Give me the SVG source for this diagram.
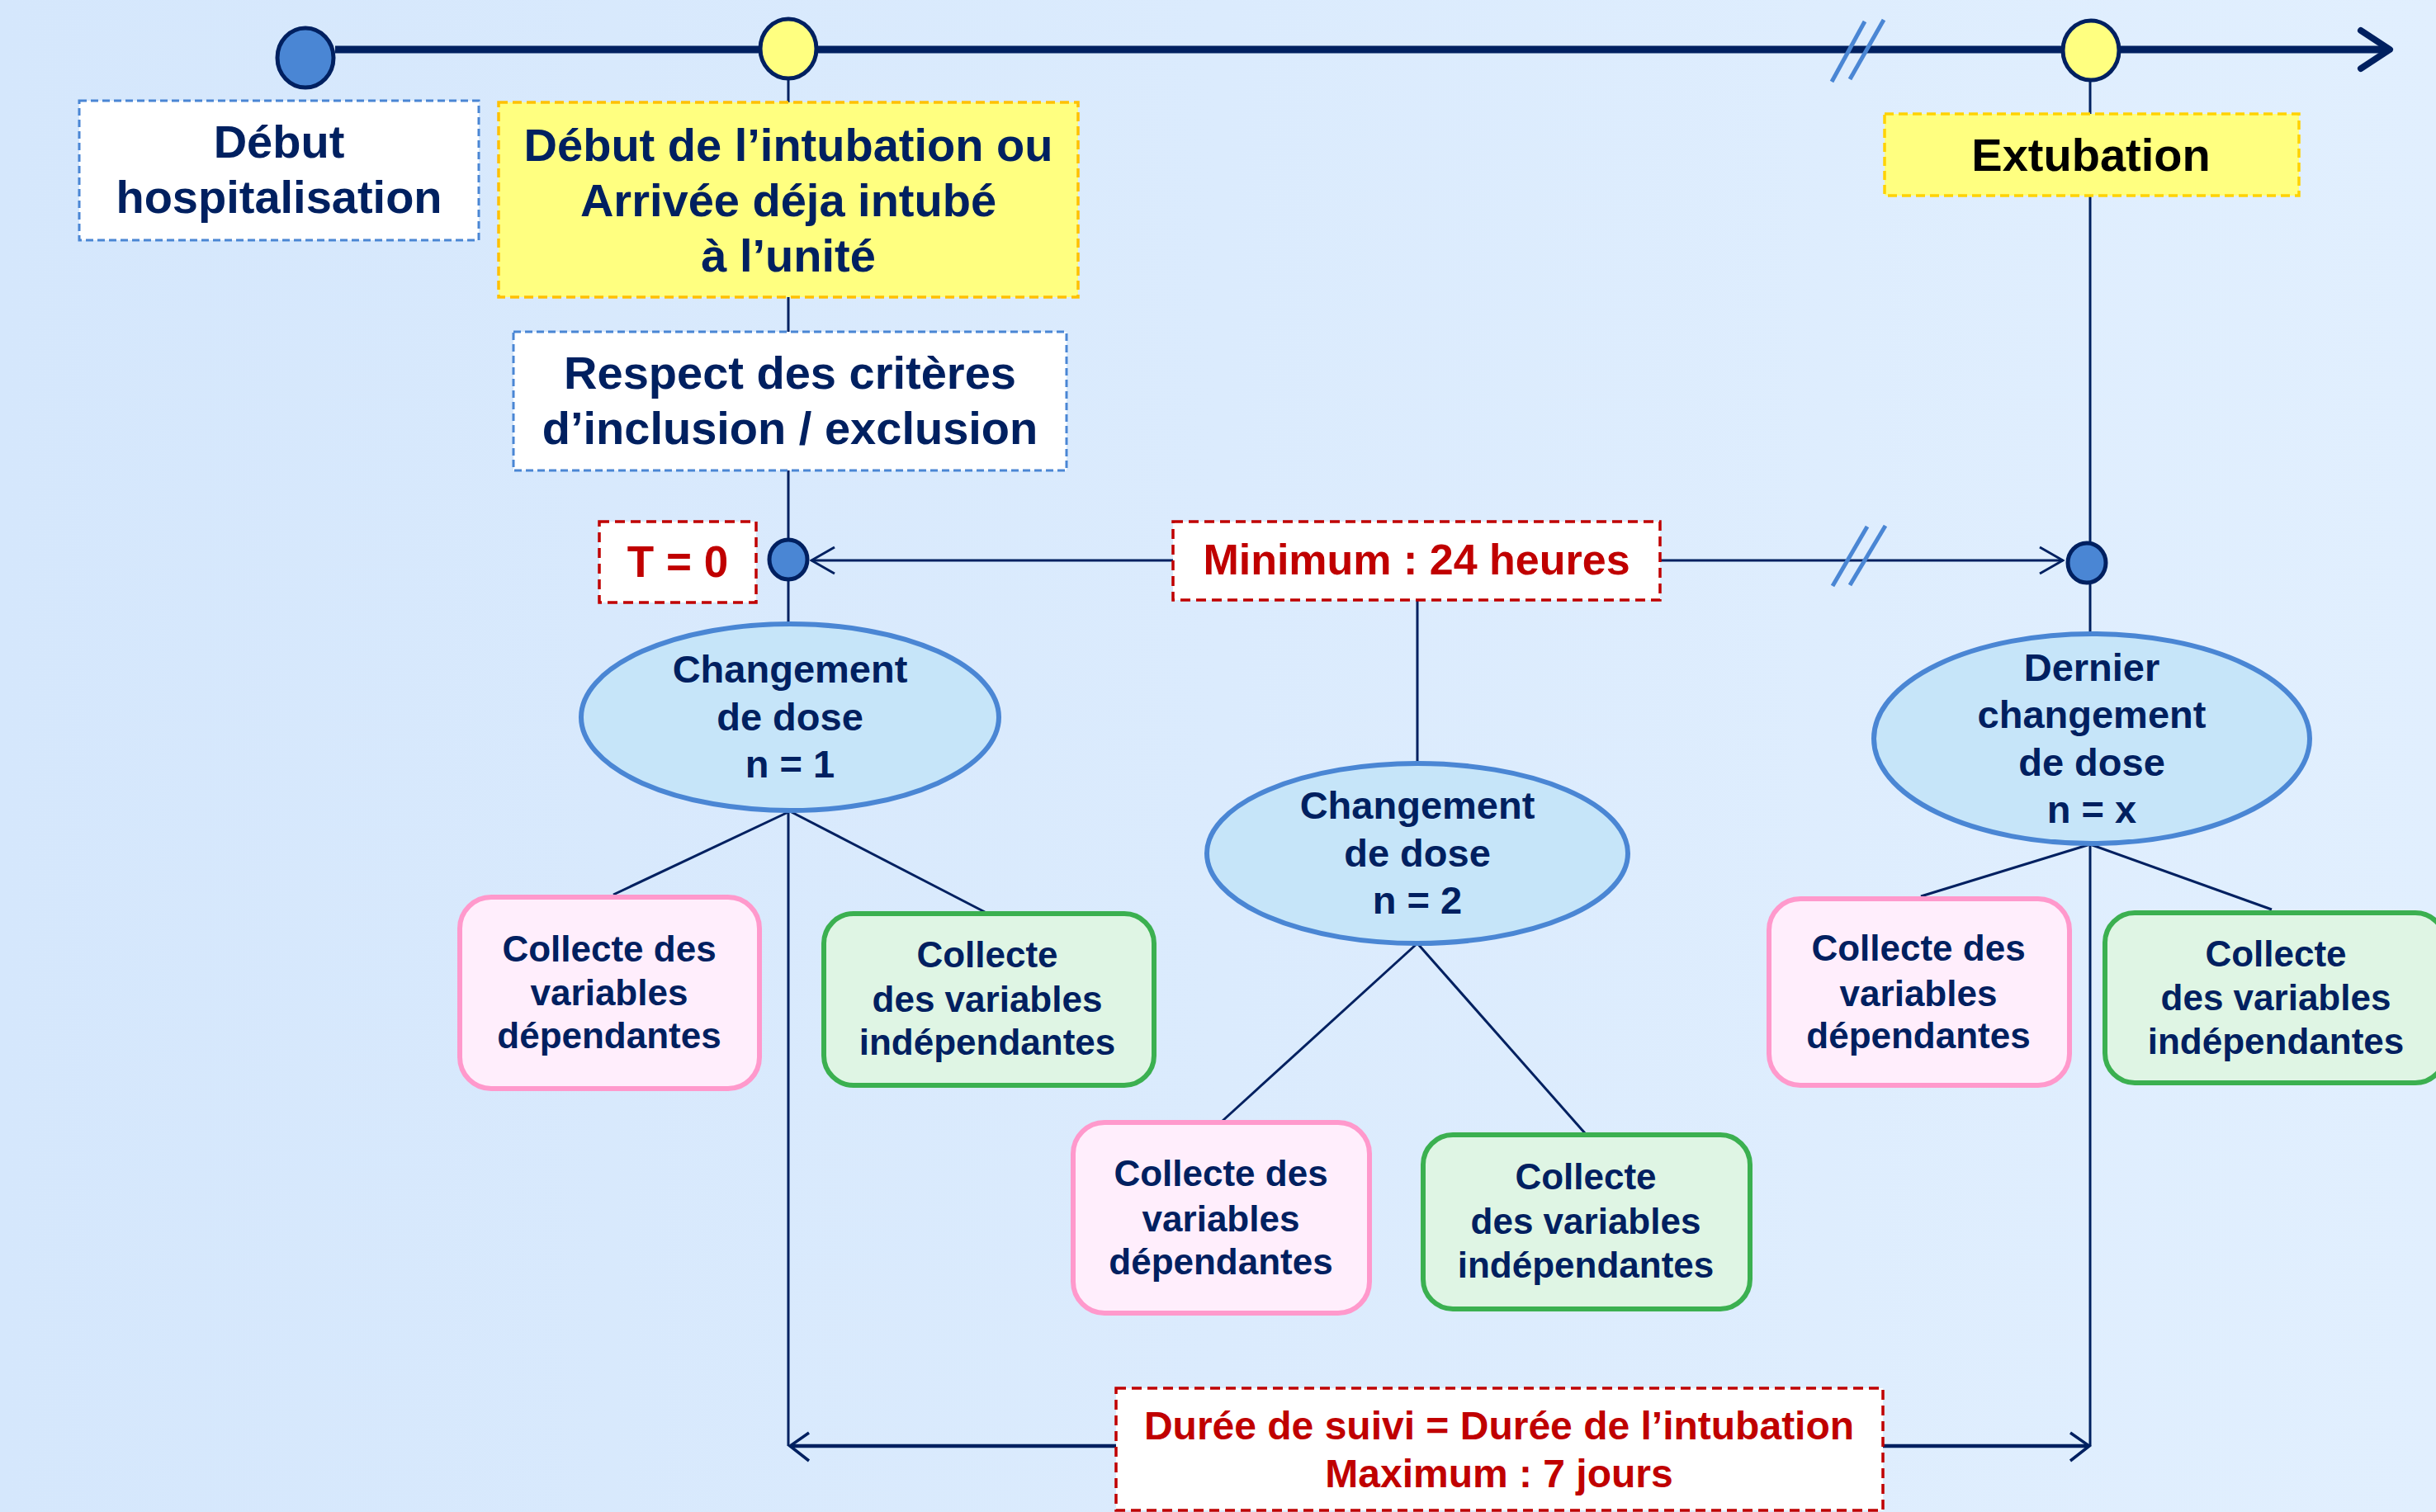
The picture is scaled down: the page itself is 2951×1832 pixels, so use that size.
<svg xmlns="http://www.w3.org/2000/svg" width="2951" height="1832" viewBox="0 0 2951 1832">
<defs>
<linearGradient id="bg" x1="0" y1="0" x2="1" y2="0">
<stop offset="0" stop-color="#d5e7fc"/>
<stop offset="1" stop-color="#e1effe"/>
</linearGradient>
<marker id="chev" viewBox="0 0 32 36" refX="30" refY="18" markerWidth="32" markerHeight="36" markerUnits="userSpaceOnUse" orient="auto-start-reverse">
<path d="M2,2 L30,18 L2,34" fill="none" stroke="#002060" stroke-width="3"/>
</marker>
</defs>
<style>
text{font-family:"Liberation Sans",Arial,sans-serif;font-weight:bold;text-anchor:middle;fill:#002060}
.big{font-size:56px}
.red{fill:#c00000}
.ell{font-size:47px}
.box{font-size:44px}
.ln{stroke:#002060;stroke-width:3;fill:none}
.brk{stroke:#4a86d4;stroke-width:5;fill:none}
.bluedash{fill:#ffffff;stroke:#4a86d4;stroke-width:3;stroke-dasharray:9 5}
.yeldash{fill:#ffff80;stroke:#ffc000;stroke-width:3.5;stroke-dasharray:11 6}
.reddash{fill:#ffffff;stroke:#c00000;stroke-width:3.5;stroke-dasharray:12 7}
.ellipse{fill:#c6e5f9;stroke:#4a86d4;stroke-width:6}
.pink{fill:#ffeefc;stroke:#ff99cc;stroke-width:6}
.green{fill:#dff5e4;stroke:#3bb050;stroke-width:6}
.dotb{fill:#4a86d4;stroke:#002060;stroke-width:5}
.doty{fill:#ffff80;stroke:#002060;stroke-width:5}
</style>
<rect x="0" y="0" width="2951" height="1832" fill="url(#bg)"/>

<g id="connectors">
<line x1="406" y1="60" x2="2894" y2="60" stroke="#002060" stroke-width="9"/>
<path d="M2860,37 L2895,60 L2860,83" fill="none" stroke="#002060" stroke-width="8" stroke-linecap="round" stroke-linejoin="round"/>
<line class="brk" x1="2259" y1="26" x2="2219" y2="99"/>
<line class="brk" x1="2282" y1="24" x2="2241" y2="96"/>
<line class="ln" x1="955" y1="96" x2="955" y2="124"/>
<line class="ln" x1="955" y1="360" x2="955" y2="402"/>
<line class="ln" x1="955" y1="570" x2="955" y2="654"/>
<line class="ln" x1="955" y1="703" x2="955" y2="755"/>
<line class="ln" x1="955" y1="983" x2="955" y2="1752"/>
<line class="ln" x1="2532" y1="98" x2="2532" y2="138"/>
<line class="ln" x1="2532" y1="237" x2="2532" y2="656"/>
<line class="ln" x1="2532" y1="708" x2="2532" y2="766"/>
<line class="ln" x1="2532" y1="1023" x2="2532" y2="1752"/>
<line class="ln" x1="1421" y1="679" x2="983" y2="679" marker-end="url(#chev)"/>
<line class="ln" x1="2011" y1="679" x2="2499" y2="679" marker-end="url(#chev)"/>
<line class="brk" x1="2262" y1="638" x2="2220" y2="710"/>
<line class="brk" x1="2284" y1="637" x2="2241" y2="709"/>
<line class="ln" x1="1717" y1="727" x2="1717" y2="925"/>
<line class="ln" x1="957" y1="983" x2="743" y2="1084"/>
<line class="ln" x1="957" y1="983" x2="1193" y2="1105"/>
<line class="ln" x1="1717" y1="1143" x2="1481" y2="1358"/>
<line class="ln" x1="1717" y1="1143" x2="1920" y2="1373"/>
<line class="ln" x1="2532" y1="1023" x2="2327" y2="1086"/>
<line class="ln" x1="2532" y1="1023" x2="2752" y2="1102"/>
<line x1="958" y1="1752" x2="2530" y2="1752" stroke="#002060" stroke-width="4.5"/>
<path d="M980,1736 L957,1752 L980,1770" fill="none" stroke="#002060" stroke-width="3.5"/>
<path d="M2508,1736 L2531,1752 L2508,1770" fill="none" stroke="#002060" stroke-width="3.5"/>
</g>

<g id="dot-debut"><ellipse class="dotb" cx="370" cy="70" rx="34" ry="36"/></g>
<g id="dot-intubation"><ellipse class="doty" cx="955" cy="59" rx="34" ry="36"/></g>
<g id="dot-extubation"><ellipse class="doty" cx="2533" cy="61" rx="34" ry="36"/></g>
<g id="dot-t0"><ellipse class="dotb" cx="955" cy="678" rx="23" ry="24"/></g>
<g id="dot-right"><ellipse class="dotb" cx="2528" cy="682" rx="23" ry="24"/></g>

<g id="debut-hosp">
<rect class="bluedash" x="96" y="122" width="484" height="169"/>
<text class="big" x="338" y="191">Début</text>
<text class="big" x="338" y="258">hospitalisation</text>
</g>

<g id="debut-intubation">
<rect class="yeldash" x="604" y="124" width="702" height="236"/>
<text class="big" x="955" y="195">Début de l’intubation ou</text>
<text class="big" x="955" y="262">Arrivée déja intubé</text>
<text class="big" x="955" y="329">à l’unité</text>
</g>

<g id="criteres">
<rect class="bluedash" x="622" y="402" width="670" height="168"/>
<text class="big" x="957" y="471">Respect des critères</text>
<text class="big" x="957" y="538">d’inclusion / exclusion</text>
</g>

<g id="extubation">
<rect class="yeldash" x="2283" y="138" width="502" height="99" style="stroke:#ffd200"/>
<text class="big" x="2533" y="207" style="fill:#000000">Extubation</text>
</g>

<g id="t0">
<rect class="reddash" x="726" y="632" width="190" height="98"/>
<text class="red" x="821" y="699" style="font-size:53px">T = 0</text>
</g>

<g id="minimum">
<rect class="reddash" x="1421" y="632" width="590" height="95"/>
<text class="red" x="1716" y="696" style="font-size:52px">Minimum : 24 heures</text>
</g>

<g id="changement-1">
<ellipse class="ellipse" cx="957" cy="869" rx="253" ry="113"/>
<text class="ell" x="957" y="827">Changement</text>
<text class="ell" x="957" y="885">de dose</text>
<text class="ell" x="957" y="942">n = 1</text>
</g>

<g id="changement-2">
<ellipse class="ellipse" cx="1717" cy="1034" rx="255" ry="109"/>
<text class="ell" x="1717" y="992">Changement</text>
<text class="ell" x="1717" y="1050">de dose</text>
<text class="ell" x="1717" y="1107">n = 2</text>
</g>

<g id="changement-x">
<ellipse class="ellipse" cx="2534" cy="895" rx="264" ry="127"/>
<text class="ell" x="2534" y="825">Dernier</text>
<text class="ell" x="2534" y="882">changement</text>
<text class="ell" x="2534" y="940">de dose</text>
<text class="ell" x="2534" y="997">n = x</text>
</g>

<g id="dep-1">
<rect class="pink" x="557" y="1087" width="363" height="232" rx="38"/>
<text class="box" x="738" y="1165">Collecte des</text>
<text class="box" x="738" y="1218">variables</text>
<text class="box" x="738" y="1270">dépendantes</text>
</g>

<g id="indep-1">
<rect class="green" x="998" y="1107" width="400" height="208" rx="36"/>
<text class="box" x="1196" y="1172">Collecte</text>
<text class="box" x="1196" y="1226">des variables</text>
<text class="box" x="1196" y="1278">indépendantes</text>
</g>

<g id="dep-2">
<rect class="pink" x="1300" y="1360" width="359" height="231" rx="38"/>
<text class="box" x="1479" y="1437">Collecte des</text>
<text class="box" x="1479" y="1492">variables</text>
<text class="box" x="1479" y="1544">dépendantes</text>
</g>

<g id="indep-2">
<rect class="green" x="1724" y="1375" width="396" height="211" rx="36"/>
<text class="box" x="1921" y="1441">Collecte</text>
<text class="box" x="1921" y="1495">des variables</text>
<text class="box" x="1921" y="1548">indépendantes</text>
</g>

<g id="dep-x">
<rect class="pink" x="2143" y="1089" width="364" height="226" rx="38"/>
<text class="box" x="2324" y="1164">Collecte des</text>
<text class="box" x="2324" y="1219">variables</text>
<text class="box" x="2324" y="1270">dépendantes</text>
</g>

<g id="indep-x">
<rect class="green" x="2550" y="1106" width="412" height="206" rx="36"/>
<text class="box" x="2757" y="1171">Collecte</text>
<text class="box" x="2757" y="1224">des variables</text>
<text class="box" x="2757" y="1277">indépendantes</text>
</g>

<g id="duree">
<rect class="reddash" x="1352" y="1682" width="929" height="148"/>
<text class="red" x="1816" y="1744" style="font-size:48px">Durée de suivi = Durée de l’intubation</text>
<text class="red" x="1816" y="1802" style="font-size:48px">Maximum : 7 jours</text>
</g>
</svg>
